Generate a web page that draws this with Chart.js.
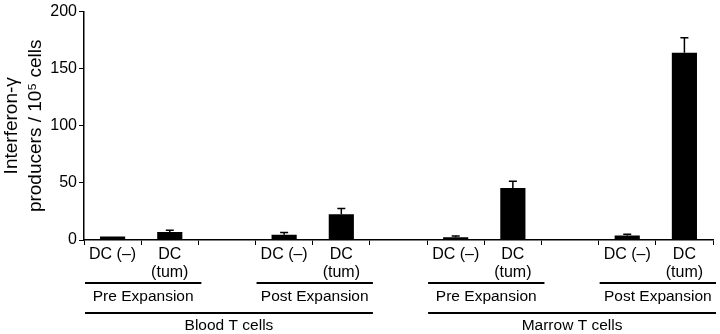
<!DOCTYPE html>
<html>
<head>
<meta charset="utf-8">
<script src="https://cdn.jsdelivr.net/npm/chart.js@4"></script>
<style>
  html, body { margin: 0; padding: 0; background: #fff; }
  #wrap { width: 720px; height: 334px; }
</style>
</head>
<body>
<div id="wrap"><canvas id="c" width="720" height="334"></canvas></div>
<script>
// ---- data ----
const categories = [
  'DC (–)', ['DC', '(tum)'], '',
  'DC (–)', ['DC', '(tum)'], '',
  'DC (–)', ['DC', '(tum)'], '',
  'DC (–)', ['DC', '(tum)']
];
const producers = [3, 7, null, 4.5, 22.5, null, 2.5, 45.5, null, 4, 164];
const errors    = [0, 1.5, null, 2, 5, null, 1, 6, null, 1, 13];
const yTicks = [0, 50, 100, 150, 200];
const yTitle = ['Interferon-γ', 'producers / 10⁵ cells'];

const subGroupLabels = ['Pre Expansion', 'Post Expansion', 'Pre Expansion', 'Post Expansion'];
const subGroupStart  = [0, 3, 6, 9];
const subGroupEnd    = [1, 4, 7, 10];
const mainGroupLabels = ['Blood T cells', 'Marrow T cells'];
const mainGroupStart  = [0, 6];
const mainGroupEnd    = [4, 10];

const FONT = '"Liberation Sans", Arial, Helvetica, sans-serif';

const errorBarPlugin = {
  id: 'errorBars',
  afterDatasetsDraw(chart) {
    const meta = chart.getDatasetMeta(0);
    const y = chart.scales.y;
    const ctx = chart.ctx;
    ctx.save();
    ctx.strokeStyle = '#000';
    ctx.lineWidth = 1.5;
    meta.data.forEach((bar, i) => {
      const v = producers[i], e = errors[i];
      if (v == null || !e) return;
      const y0 = y.getPixelForValue(v);
      const y1 = y.getPixelForValue(v + e);
      ctx.beginPath();
      ctx.moveTo(bar.x, y0);
      ctx.lineTo(bar.x, y1);
      ctx.moveTo(bar.x - 4, y1);
      ctx.lineTo(bar.x + 4, y1);
      ctx.stroke();
    });
    ctx.restore();
  }
};

const groupPlugin = {
  id: 'groups',
  afterDraw(chart) {
    const x = chart.scales.x;
    const ctx = chart.ctx;
    const half = (x.getPixelForValue(1) - x.getPixelForValue(0)) / 2;
    ctx.save();
    ctx.strokeStyle = '#000';
    ctx.fillStyle = '#000';
    ctx.lineWidth = 2.2;
    ctx.font = '15.5px ' + FONT;
    ctx.textAlign = 'center';
    ctx.textBaseline = 'middle';
    subGroupLabels.forEach((lab, i) => {
      const a = x.getPixelForValue(subGroupStart[i]) - half + 1;
      const b = x.getPixelForValue(subGroupEnd[i]) + half + 3;
      ctx.beginPath(); ctx.moveTo(a, 283); ctx.lineTo(b, 283); ctx.stroke();
      ctx.fillText(lab, (a + b) / 2, 297);
    });
    mainGroupLabels.forEach((lab, i) => {
      const a = x.getPixelForValue(mainGroupStart[i]) - half + 1;
      const b = x.getPixelForValue(mainGroupEnd[i]) + half + 3;
      ctx.beginPath(); ctx.moveTo(a, 313); ctx.lineTo(b, 313); ctx.stroke();
      ctx.fillText(lab, (a + b) / 2, 326);
    });
    ctx.restore();
  }
};

new Chart(document.getElementById('c'), {
  type: 'bar',
  data: {
    labels: categories,
    datasets: [{
      data: producers,
      backgroundColor: '#000',
      borderWidth: 0,
      barPercentage: 0.44,
      categoryPercentage: 1
    }]
  },
  options: {
    responsive: false,
    animation: false,
    devicePixelRatio: 1,
    layout: { padding: { left: 0, right: 7, top: 0, bottom: 0 } },
    plugins: { legend: { display: false }, tooltip: { enabled: false } },
    scales: {
      x: {
        grid: { display: true, drawOnChartArea: false, drawTicks: true, tickLength: 5, color: '#000', lineWidth: 1 },
        border: { display: true, color: '#000', width: 1.5 },
        ticks: { color: '#000', font: { family: FONT, size: 16, lineHeight: 1.1 }, padding: 1, maxRotation: 0, autoSkip: false },
        afterFit(s) { s.height = 94; }
      },
      y: {
        min: 0, max: 200,
        afterBuildTicks(s) { s.ticks = yTicks.map(v => ({ value: v })); },
        grid: { display: true, drawOnChartArea: false, drawTicks: true, tickLength: 5, color: '#000', lineWidth: 1 },
        border: { display: true, color: '#000', width: 1.5 },
        ticks: { color: '#000', font: { family: FONT, size: 16 }, padding: 2 },
        title: { display: true, text: yTitle, color: '#000', font: { family: FONT, size: 19, lineHeight: 1.27 }, padding: { top: 0, bottom: 0 } },
        afterFit(s) { s.width = 84; }
      }
    }
  },
  plugins: [errorBarPlugin, groupPlugin]
});
</script>
</body>
</html>
